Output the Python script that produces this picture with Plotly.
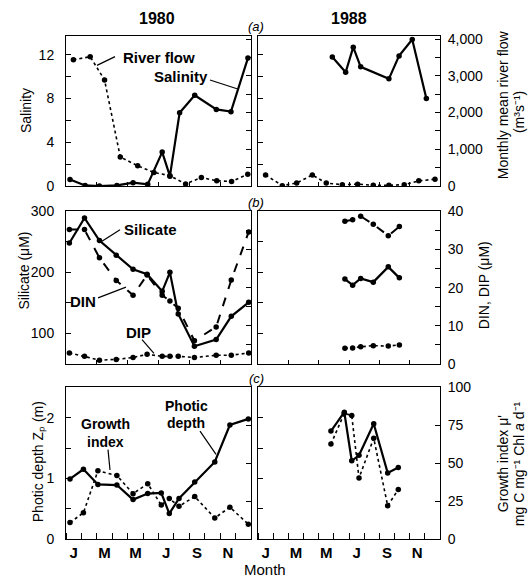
import plotly.graph_objects as go

W, H = 532, 585

# ---------------- data ----------------
# Panel (a) 1980
sal80_month = [0.26, 1.24, 2.17, 3.3, 4.35, 5.3, 6.24, 6.74, 7.37, 8.35, 9.75, 10.7, 11.8]
sal80 = [0.6, 0.05, 0.0, 0.05, 0.3, 0.15, 3.1, 0.9, 6.7, 8.3, 7.0, 6.8, 11.7]
flow80_month = [0.48, 1.57, 2.5, 3.52, 4.65, 5.7, 6.74, 7.76, 8.78, 9.78, 10.74, 11.79]
flow80 = [3440, 3520, 2890, 790, 550, 370, 280, 55, 230, 140, 125, 320]
# Panel (a) 1988
sal88_month = [4.9, 5.78, 6.28, 6.77, 8.63, 9.3, 10.17, 11.1]
sal88 = [11.8, 10.4, 12.7, 10.9, 9.8, 11.9, 13.4, 8.0]
flow88_month = [0.5, 1.6, 2.55, 3.58, 4.5, 5.56, 6.57, 7.6, 8.63, 9.64, 10.6, 11.67]
flow88 = [300, 10, 80, 300, 80, 35, 50, 20, 20, 35, 140, 185]

# Panel (b) 1980
nut80_month = [0.22, 1.2, 2.17, 3.26, 4.35, 5.26, 6.24, 6.74, 7.28, 8.33, 9.74, 10.72, 11.85]
sil80 = [248, 289, 252, 228, 205, 197, 169, 200, 132, 79, 90, 128, 151]
din80 = [35.2, 35.2, 27.8, 21.9, 18.0, 23.3, 18.0, 16.5, 14.6, 6.1, 9.7, 22.0, 34.6]
dip80 = [2.9, 2.0, 1.0, 1.2, 1.7, 2.55, 2.0, 2.0, 2.0, 1.7, 2.3, 2.3, 2.9]
# Panel (b) 1988
nut88_month = [5.73, 6.24, 6.77, 7.6, 8.59, 9.32]
sil88 = [189, 179, 190, 184, 209, 191]
din88 = [37.4, 37.8, 38.7, 36.6, 33.6, 36.0]
dip88 = [4.1, 4.2, 4.5, 4.8, 4.7, 5.0]

# Panel (c) 1980
opt80_month = [0.26, 1.13, 2.07, 3.3, 4.35, 5.3, 6.18, 6.7, 7.33, 8.35, 9.65, 10.63, 11.83]
zp80 = [0.99, 1.15, 0.90, 0.89, 0.65, 0.75, 0.76, 0.42, 0.67, 0.94, 1.27, 1.88, 1.98]
gi80 = [10.9, 17.3, 45, 41.9, 29.9, 36.5, 22.4, 26.7, 21.6, 28, 13.9, 21, 9.8]
# Panel (c) 1988
opt88_month = [4.81, 5.69, 6.18, 6.66, 7.63, 8.55, 9.25]
zp88 = [1.78, 2.09, 1.29, 1.38, 1.90, 1.09, 1.18]
gi88 = [62.6, 82.9, 81.4, 40.2, 66.5, 22.0, 32.7]

month_ticks = ["J", "M", "M", "J", "S", "N"]
years = ["1980", "1988"]
panel_tags = ["(a)", "(b)", "(c)"]

# ---------------- layout helpers ----------------
FONT = "Liberation Sans, Arial, Helvetica, sans-serif"


def px(x):
    return x / W


def py(y):
    return 1 - y / H


col_px = [(66, 251), (258, 440)]
row_px = [(29, 183), (209, 366), (390, 546)]

# labelled ticks (major) and unlabelled ticks (minor)
left_specs = [
    dict(range=[0, 13.7], tickvals=[0, 4, 8, 12], ticktext=["0", "4", "8", "12"],
         minor=[2, 6, 10]),
    dict(range=[50, 300], tickvals=[100, 200, 300], ticktext=["100", "200", "300"],
         minor=[50, 150, 250]),
    dict(range=[0, 2.5], tickvals=[0, 1, 2], ticktext=["0", "1", "2"],
         minor=[0.5, 1.5, 2.5]),
]
right_specs = [
    dict(range=[0, 4080], tickvals=[0, 1000, 2000, 3000, 4000],
         ticktext=["0", "1,000", "2,000", "3,000", "4,000"],
         minor=[500, 1500, 2500, 3500]),
    dict(range=[0, 40], tickvals=[0, 10, 20, 30, 40],
         ticktext=["0", "10", "20", "30", "40"], minor=[5, 15, 25, 35]),
    dict(range=[0, 100], tickvals=[0, 25, 50, 75, 100],
         ticktext=["0", "25", "50", "75", "100"], minor=[]),
]

fig = go.Figure()
layout = dict(
    width=W, height=H,
    margin=dict(l=0, r=0, t=0, b=0),
    paper_bgcolor="white", plot_bgcolor="white",
    showlegend=False,
    font=dict(family=FONT, size=14, color="black"),
)

axes = {}  # (row, col) -> (xname, yleft, yright)
for r in range(3):
    for c in range(2):
        k = r * 2 + c
        xi = k + 1
        yl = 2 * k + 1
        yr = 2 * k + 2
        xkey = "xaxis" if xi == 1 else f"xaxis{xi}"
        xref = "x" if xi == 1 else f"x{xi}"
        ylkey = "yaxis" if yl == 1 else f"yaxis{yl}"
        ylref = "y" if yl == 1 else f"y{yl}"
        yrkey = f"yaxis{yr}"
        yrref = f"y{yr}"
        axes[(r, c)] = (xref, ylref, yrref)

        xd = [px(col_px[c][0]), px(col_px[c][1])]
        yd = [py(row_px[r][1]), py(row_px[r][0])]

        xa = dict(domain=xd, range=[0, 12], anchor=ylref, showgrid=False,
                  zeroline=False, showline=True, linecolor="black", linewidth=1,
                  mirror=True, fixedrange=True)
        if r < 2:
            xa.update(tickvals=[0, 2, 4, 6, 8, 10, 12], ticks="inside", ticklen=4,
                      tickcolor="black", showticklabels=False)
        else:
            xa.update(tickvals=[0.5, 2.5, 4.5, 6.5, 8.5, 10.5],
                      ticktext=month_ticks,
                      ticks="", showticklabels=True,
                      tickfont=dict(size=15, family=FONT, weight="bold"),
                      minor=dict(tickvals=list(range(13)), ticks="inside", ticklen=6,
                                 tickcolor="black", tickwidth=1))
        layout[xkey] = xa

        ls = left_specs[r]
        rs = right_specs[r]
        ya = dict(domain=yd, anchor=xref, side="left", range=ls["range"],
                  tickvals=ls["tickvals"], ticktext=ls["ticktext"],
                  ticks="inside", ticklen=5, tickcolor="black",
                  minor=dict(tickvals=ls["minor"], ticks="inside", ticklen=5,
                             tickcolor="black", tickwidth=1),
                  showgrid=False, zeroline=False, showline=True, linecolor="black",
                  linewidth=1, showticklabels=(c == 0), ticklabelstandoff=8,
                  tickfont=dict(size=14, family=FONT), fixedrange=True)
        yb = dict(domain=yd, anchor=xref, overlaying=ylref, side="right",
                  range=rs["range"], tickvals=rs["tickvals"], ticktext=rs["ticktext"],
                  ticks="inside", ticklen=5, tickcolor="black",
                  minor=dict(tickvals=rs["minor"], ticks="inside", ticklen=5,
                             tickcolor="black", tickwidth=1),
                  showgrid=False, zeroline=False, showline=True, linecolor="black",
                  linewidth=1, showticklabels=(c == 1), ticklabelstandoff=4,
                  tickfont=dict(size=14, family=FONT), fixedrange=True)
        layout[ylkey] = ya
        layout[yrkey] = yb


def add(r, c, xs, ys, which, style):
    xref, yl, yr = axes[(r, c)]
    width = {"solid": 2.2, "dash": 2.0, "dot": 1.6}[style]
    fig.add_trace(go.Scatter(
        x=xs, y=ys, xaxis=xref, yaxis=(yl if which == "L" else yr),
        mode="lines+markers",
        line=dict(color="black", width=width, dash=style),
        marker=dict(color="black", size=5.5),
        hoverinfo="skip",
    ))


# Panel (a)
add(0, 0, flow80_month, flow80, "R", "dot")
add(0, 0, sal80_month, sal80, "L", "solid")
add(0, 1, flow88_month, flow88, "R", "dot")
add(0, 1, sal88_month, sal88, "L", "solid")
# Panel (b)
add(1, 0, nut80_month, dip80, "R", "dot")
add(1, 0, nut80_month, din80, "R", "dash")
add(1, 0, nut80_month, sil80, "L", "solid")
add(1, 1, nut88_month, dip88, "R", "dot")
add(1, 1, nut88_month, din88, "R", "dash")
add(1, 1, nut88_month, sil88, "L", "solid")
# Panel (c)
add(2, 0, opt80_month, gi80, "R", "dot")
add(2, 0, opt80_month, zp80, "L", "solid")
add(2, 1, opt88_month, gi88, "R", "dot")
add(2, 1, opt88_month, zp88, "L", "solid")

ann = []


def text(x, y, t, size=14, bold=False, italic=False, angle=0):
    ann.append(dict(x=px(x), y=py(y), xref="paper", yref="paper", text=t,
                    showarrow=False, textangle=angle,
                    xanchor="center", yanchor="middle", borderpad=0,
                    font=dict(family=FONT, size=size, color="black",
                              weight=("bold" if bold else "normal"),
                              style=("italic" if italic else "normal"))))


# titles
text(157, 11, years[0], size=16, bold=True)
text(349, 11, years[1], size=16, bold=True)
text(256, 19, panel_tags[0], size=13, italic=True)
text(256, 200, panel_tags[1], size=13, italic=True)
text(256, 381, panel_tags[2], size=13, italic=True)
text(265, 577, "Month", size=15)

# series labels
text(159, 51, "River flow", size=15, bold=True)
text(181, 70, "Salinity", size=15, bold=True)
text(150, 228, "Silicate", size=15, bold=True)
text(83, 302, "DIN", size=15, bold=True)
text(138, 334, "DIP", size=15, bold=True)
text(105, 428, "Growth", size=14, bold=True)
text(105, 446, "index", size=14, bold=True)
text(186, 409, "Photic", size=14, bold=True)
text(186, 427, "depth", size=14, bold=True)

# axis titles
text(26, 106, "Salinity", size=14, angle=-90)
text(24, 270, "Silicate (μM)", size=14, angle=-90)
text(38, 467, "Photic depth Zₚ (m)", size=14, angle=-90)
text(503, 100, "Monthly mean river flow", size=14, angle=-90)
text(519, 107, "(m³s⁻¹)", size=14, angle=-90)
text(484, 285, "DIN, DIP (μM)", size=14, angle=-90)
text(503, 469, "Growth index μ'", size=14, angle=-90)
text(519, 469, "mg C mg⁻¹ Chl <i>a</i> d⁻¹", size=14, angle=-90)

layout["annotations"] = ann

# leader lines
leaders = [
    ((97, 59), (115, 50)),
    ((210, 74), (237, 83)),
    ((100, 241), (120, 228)),
    ((98, 298), (126, 287)),
    ((142, 341), (154, 355)),
    ((108, 454), (110, 475)),
    ((200, 435), (216, 459)),
]
shapes = []
for (x0, y0), (x1, y1) in leaders:
    shapes.append(dict(type="line", xref="paper", yref="paper",
                       x0=px(x0), y0=py(y0), x1=px(x1), y1=py(y1),
                       line=dict(color="black", width=1.2)))
layout["shapes"] = shapes

fig.update_layout(**layout)
fig.write_html("out.html", config={"displayModeBar": False})
